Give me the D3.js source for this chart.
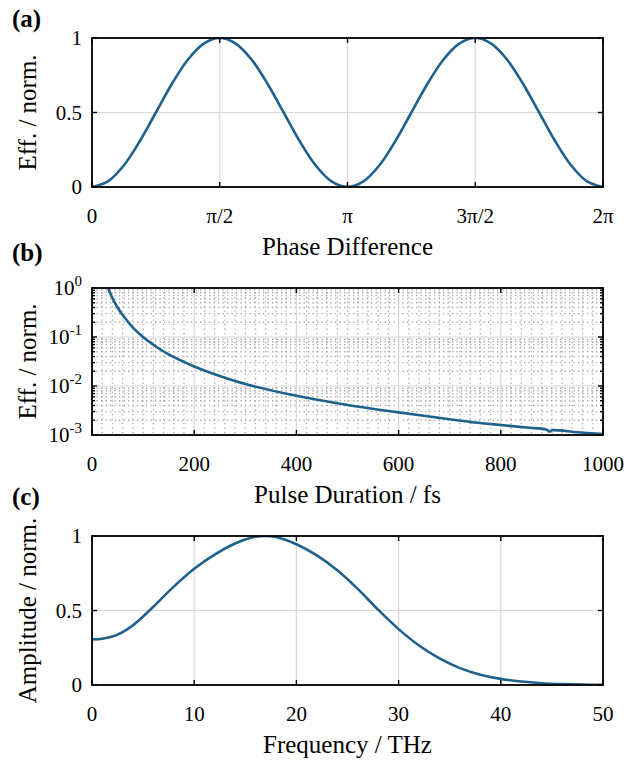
<!DOCTYPE html>
<html>
<head>
<meta charset="utf-8">
<script src="https://cdn.jsdelivr.net/npm/d3@7"></script>
<style>
  body { margin: 0; background: #fff; }
  text { font-family: "Liberation Serif", "Times New Roman", serif; fill: #000; }
</style>
</head>
<body>
<svg id="chart" width="628" height="760"></svg>
<script>
// (a) efficiency vs phase difference, phase given in units of pi
const phaseX = [0, 0.0625, 0.125, 0.1875, 0.25, 0.3125, 0.375, 0.4375, 0.5, 0.5625, 0.625, 0.6875, 0.75, 0.8125, 0.875, 0.9375,
  1, 1.0625, 1.125, 1.1875, 1.25, 1.3125, 1.375, 1.4375, 1.5, 1.5625, 1.625, 1.6875, 1.75, 1.8125, 1.875, 1.9375, 2];
const phaseEff = [0, 0.038, 0.146, 0.309, 0.5, 0.691, 0.854, 0.962, 1, 0.962, 0.854, 0.691, 0.5, 0.309, 0.146, 0.038,
  0, 0.038, 0.146, 0.309, 0.5, 0.691, 0.854, 0.962, 1, 0.962, 0.854, 0.691, 0.5, 0.309, 0.146, 0.038, 0];
const phaseTicks = [0, 0.5, 1, 1.5, 2];
const phaseTickLabels = ['0', 'π/2', 'π', '3π/2', '2π'];
const effTicks = [0, 0.5, 1];

// (b) efficiency vs pulse duration (log)
const pulseFs = [31.6, 40, 50, 60, 80, 100, 125, 150, 200, 250, 300, 400, 500, 600, 700, 750, 800, 850, 890, 895, 900, 950, 1000];
const pulseEff = [1.0, 0.62, 0.40, 0.28, 0.156, 0.10, 0.064, 0.044, 0.025, 0.016, 0.011, 0.0063, 0.0041, 0.0029, 0.0021, 0.0018,
  0.0016, 0.00142, 0.00128, 0.00117, 0.00125, 0.00114, 0.00105];
const pulseTicks = [0, 200, 400, 600, 800, 1000];
const pulseMinorStep = 20;
const decadeExps = [0, -1, -2, -3];

// (c) amplitude spectrum
const freqTHz = [0, 1, 2, 3, 4, 5, 6, 8, 10, 12, 14, 16, 17, 18, 20, 22, 24, 26, 28, 30, 32, 34, 36, 38, 40, 42, 44, 46, 48, 50];
const freqAmp = [0.306, 0.31, 0.325, 0.355, 0.40, 0.46, 0.525, 0.66, 0.78, 0.875, 0.95, 0.995, 1.0, 0.993, 0.945, 0.87, 0.77, 0.645,
  0.505, 0.375, 0.265, 0.178, 0.113, 0.069, 0.041, 0.023, 0.012, 0.006, 0.0025, 0.001];
const freqTicks = [0, 10, 20, 30, 40, 50];
const ampTicks = [0, 0.5, 1];


const lineColor = '#1f618d';
const left = 92, right = 603;
const tickLen = 5;
const svg = d3.select('#chart');

function drawPanel(opt) {
  const { top, bottom, x, y, xTicks, xLabels, yTicks, yLabel, xTitle, yTitle, tag, id } = opt;
  const g = svg.append('g');

  // grids
  if (opt.minorX) {
    g.append('g').selectAll('line').data(opt.minorX).join('line')
      .attr('x1', d => x(d)).attr('x2', d => x(d)).attr('y1', top).attr('y2', bottom)
      .attr('stroke', '#a8a8a8').attr('stroke-width', 1.3).attr('stroke-dasharray', '1.3,3.2');
  }
  if (opt.minorY) {
    g.append('g').selectAll('line').data(opt.minorY).join('line')
      .attr('y1', d => y(d)).attr('y2', d => y(d)).attr('x1', left).attr('x2', right)
      .attr('stroke', '#a8a8a8').attr('stroke-width', 1.3).attr('stroke-dasharray', '1.3,3.2');
  }
  g.append('g').selectAll('line').data(xTicks).join('line')
    .attr('x1', d => x(d)).attr('x2', d => x(d)).attr('y1', top).attr('y2', bottom)
    .attr('stroke', '#d8d8d8').attr('stroke-width', 1.2);
  g.append('g').selectAll('line').data(yTicks).join('line')
    .attr('y1', d => y(d)).attr('y2', d => y(d)).attr('x1', left).attr('x2', right)
    .attr('stroke', '#d8d8d8').attr('stroke-width', 1.2);

  // curve
  svg.append('clipPath').attr('id', 'clip-' + id)
    .append('rect').attr('x', left).attr('y', top).attr('width', right - left).attr('height', bottom - top);
  const line = d3.line().x(d => x(d[0])).y(d => y(d[1])).curve(d3.curveCatmullRom.alpha(0.5));
  g.append('path')
    .datum(opt.data)
    .attr('clip-path', `url(#clip-${id})`)
    .attr('d', line)
    .attr('fill', 'none')
    .attr('stroke', lineColor)
    .attr('stroke-width', 2.6);

  // ticks (inside, all four sides)
  const tk = g.append('g').attr('stroke', '#000').attr('stroke-width', 1.4);
  xTicks.forEach(d => {
    tk.append('line').attr('x1', x(d)).attr('x2', x(d)).attr('y1', bottom).attr('y2', bottom - tickLen);
    tk.append('line').attr('x1', x(d)).attr('x2', x(d)).attr('y1', top).attr('y2', top + tickLen);
  });
  yTicks.forEach(d => {
    tk.append('line').attr('y1', y(d)).attr('y2', y(d)).attr('x1', left).attr('x2', left + tickLen);
    tk.append('line').attr('y1', y(d)).attr('y2', y(d)).attr('x1', right).attr('x2', right - tickLen);
  });
  (opt.minorY || []).forEach(d => {
    tk.append('line').attr('y1', y(d)).attr('y2', y(d)).attr('x1', left).attr('x2', left + 3);
    tk.append('line').attr('y1', y(d)).attr('y2', y(d)).attr('x1', right).attr('x2', right - 3);
  });

  // box
  g.append('rect').attr('x', left).attr('y', top).attr('width', right - left).attr('height', bottom - top)
    .attr('fill', 'none').attr('stroke', '#000').attr('stroke-width', 1.8);

  // tick labels
  g.append('g').selectAll('text').data(xTicks).join('text')
    .attr('x', d => x(d)).attr('y', bottom + 36)
    .attr('text-anchor', 'middle').attr('font-size', 21)
    .text((d, i) => xLabels[i]);
  const yl = g.append('g').selectAll('text').data(yTicks).join('text')
    .attr('x', 82).attr('y', d => y(d) + 7)
    .attr('text-anchor', 'end').attr('font-size', 21);
  yLabel(yl);

  // axis titles
  g.append('text').attr('x', (left + right) / 2).attr('y', bottom + 68)
    .attr('text-anchor', 'middle').attr('font-size', 25).text(xTitle);
  g.append('text')
    .attr('transform', `translate(36,${(top + bottom) / 2}) rotate(-90)`)
    .attr('text-anchor', 'middle').attr('font-size', 25).text(yTitle);

  // panel tag
  g.append('text').attr('x', 12).attr('y', opt.tagY)
    .attr('font-size', 25).attr('font-weight', 'bold').text(tag);
}

// (a)
const xa = d3.scaleLinear().domain([0, 2]).range([left, right]);
const ya = d3.scaleLinear().domain([0, 1]).range([187, 38]);
drawPanel({
  id: 'a', top: 38, bottom: 187, x: xa, y: ya, tag: '(a)', tagY: 27,
  data: phaseX.map((p, i) => [p, phaseEff[i]]),
  xTicks: phaseTicks, xLabels: phaseTickLabels, yTicks: effTicks,
  yLabel: sel => sel.text(d => d3.format('~g')(d)),
  xTitle: 'Phase Difference', yTitle: 'Eff. / norm.'
});

// (b)
const xb = d3.scaleLinear().domain([0, 1000]).range([left, right]);
const yb = d3.scaleLog().domain([1e-3, 1]).range([435, 288]);
const minorYb = [];
decadeExps.slice(1).forEach(e => { for (let m = 2; m <= 9; m++) minorYb.push(m * Math.pow(10, e)); });
const minorXb = d3.range(pulseMinorStep, 1000, pulseMinorStep).filter(v => v % 200 !== 0);
drawPanel({
  id: 'b', top: 288, bottom: 435, x: xb, y: yb, tag: '(b)', tagY: 261,
  data: pulseFs.map((p, i) => [p, pulseEff[i]]),
  xTicks: pulseTicks, xLabels: pulseTicks.map(String),
  yTicks: decadeExps.map(e => Math.pow(10, e)),
  minorX: minorXb, minorY: minorYb,
  yLabel: sel => {
    sel.text('10');
    sel.append('tspan').attr('dy', -9).attr('font-size', 15)
      .text(d => { const e = Math.round(Math.log10(d)); return e === 0 ? '0' : '-' + Math.abs(e); });
  },
  xTitle: 'Pulse Duration / fs', yTitle: 'Eff. / norm.'
});

// (c)
const xc = d3.scaleLinear().domain([0, 50]).range([left, right]);
const yc = d3.scaleLinear().domain([0, 1]).range([685, 536]);
drawPanel({
  id: 'c', top: 536, bottom: 685, x: xc, y: yc, tag: '(c)', tagY: 505,
  data: freqTHz.map((f, i) => [f, freqAmp[i]]),
  xTicks: freqTicks, xLabels: freqTicks.map(String), yTicks: ampTicks,
  yLabel: sel => sel.text(d => d3.format('~g')(d)),
  xTitle: 'Frequency / THz', yTitle: 'Amplitude / norm.'
});
</script>
</body>
</html>
